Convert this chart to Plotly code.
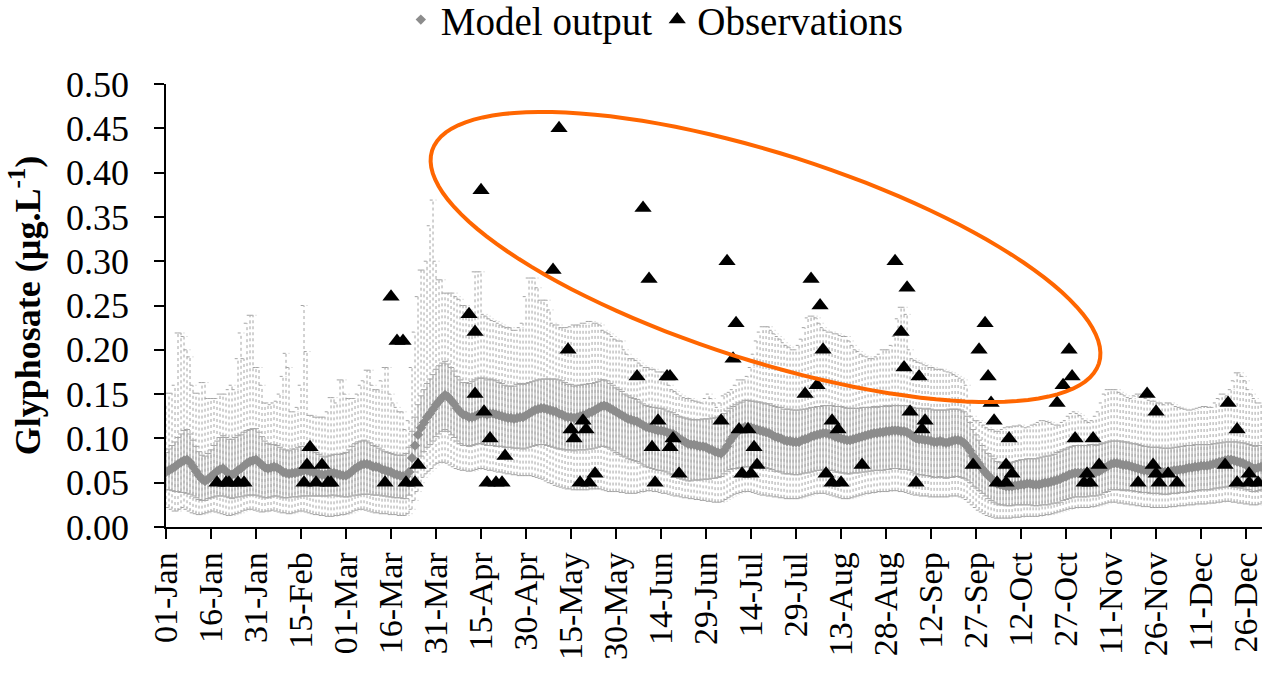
import math
import plotly.graph_objects as go

# ---------------- data ----------------
tick_days = [0, 15, 30, 45, 60, 75, 90, 105, 120, 135, 150, 165, 180, 195, 210, 225,
             240, 255, 270, 285, 300, 315, 330, 345, 360]
tick_labels = ["01-Jan", "16-Jan", "31-Jan", "15-Feb", "01-Mar", "16-Mar", "31-Mar",
               "15-Apr", "30-Apr", "15-May", "30-May", "14-Jun", "29-Jun", "14-Jul",
               "29-Jul", "13-Aug", "28-Aug", "12-Sep", "27-Sep", "12-Oct", "27-Oct",
               "11-Nov", "26-Nov", "11-Dec", "26-Dec"]

# daily model output (mean), day 0 = 01-Jan (leap year, 366 days)
model_mean = [
    0.062, 0.064, 0.066, 0.068, 0.071, 0.073, 0.075, 0.076, 0.073, 0.068,
    0.063, 0.058, 0.054, 0.052, 0.054, 0.057, 0.060, 0.063, 0.065, 0.066,
    0.063, 0.060, 0.059, 0.061, 0.064, 0.066, 0.069, 0.072, 0.074, 0.075,
    0.076, 0.073, 0.070, 0.067, 0.066, 0.067, 0.068, 0.067, 0.065, 0.062,
    0.061, 0.060, 0.061, 0.061, 0.062, 0.063, 0.064, 0.064, 0.063, 0.062,
    0.061, 0.060, 0.059, 0.059, 0.060, 0.061, 0.061, 0.060, 0.059, 0.058,
    0.058, 0.060, 0.063, 0.066, 0.068, 0.070, 0.071, 0.071, 0.070, 0.068,
    0.068, 0.067, 0.065, 0.064, 0.063, 0.062, 0.060, 0.059, 0.058, 0.057,
    0.057, 0.062, 0.078, 0.092, 0.104, 0.112, 0.118, 0.124, 0.128, 0.133,
    0.138, 0.142, 0.146, 0.149, 0.147, 0.143, 0.139, 0.134, 0.130, 0.127,
    0.126, 0.124, 0.124, 0.125, 0.127, 0.128, 0.128, 0.127, 0.128, 0.128,
    0.127, 0.126, 0.125, 0.124, 0.123, 0.123, 0.122, 0.123, 0.124, 0.124,
    0.126, 0.128, 0.130, 0.132, 0.133, 0.134, 0.134, 0.133, 0.132, 0.131,
    0.130, 0.128, 0.127, 0.125, 0.124, 0.124, 0.123, 0.124, 0.125, 0.126,
    0.127, 0.129, 0.130, 0.132, 0.134, 0.136, 0.137, 0.136, 0.134, 0.132,
    0.130, 0.128, 0.126, 0.124, 0.122, 0.121, 0.120, 0.119, 0.117, 0.115,
    0.113, 0.112, 0.111, 0.110, 0.109, 0.109, 0.108, 0.107, 0.106, 0.105,
    0.103, 0.100, 0.098, 0.096, 0.094, 0.093, 0.093, 0.092, 0.091, 0.091,
    0.090, 0.088, 0.087, 0.085, 0.084, 0.083, 0.086, 0.091, 0.097, 0.102,
    0.106, 0.109, 0.111, 0.113, 0.113, 0.112, 0.111, 0.110, 0.109, 0.108,
    0.107, 0.106, 0.104, 0.102, 0.101, 0.100, 0.098, 0.097, 0.097, 0.096,
    0.096, 0.096, 0.098, 0.099, 0.100, 0.102, 0.103, 0.104, 0.105, 0.106,
    0.106, 0.105, 0.104, 0.102, 0.101, 0.100, 0.099, 0.098, 0.098, 0.099,
    0.100, 0.101, 0.102, 0.103, 0.104, 0.105, 0.106, 0.106, 0.107, 0.107,
    0.108, 0.108, 0.109, 0.109, 0.109, 0.108, 0.108, 0.107, 0.105, 0.102,
    0.100, 0.099, 0.099, 0.098, 0.098, 0.097, 0.096, 0.096, 0.097, 0.096,
    0.095, 0.096, 0.097, 0.098, 0.098, 0.097, 0.095, 0.091, 0.086, 0.080,
    0.076, 0.071, 0.066, 0.062, 0.058, 0.055, 0.052, 0.049, 0.048, 0.047,
    0.046, 0.046, 0.046, 0.047, 0.047, 0.048, 0.048, 0.049, 0.049, 0.048,
    0.048, 0.048, 0.049, 0.050, 0.050, 0.051, 0.052, 0.053, 0.054, 0.056,
    0.057, 0.059, 0.060, 0.061, 0.061, 0.061, 0.061, 0.061, 0.062, 0.062,
    0.062, 0.063, 0.065, 0.067, 0.069, 0.071, 0.072, 0.072, 0.071, 0.070,
    0.070, 0.069, 0.068, 0.067, 0.066, 0.065, 0.064, 0.064, 0.063, 0.063,
    0.063, 0.063, 0.062, 0.062, 0.062, 0.063, 0.064, 0.064, 0.065, 0.065,
    0.066, 0.067, 0.067, 0.068, 0.068, 0.069, 0.069, 0.069, 0.070, 0.071,
    0.072, 0.073, 0.074, 0.075, 0.076, 0.076, 0.075, 0.074, 0.073, 0.072,
    0.070, 0.069, 0.067, 0.066, 0.067, 0.068,
]

# inner (solid) error bar half-lengths
inner_err_plus = [
    .022, .024, .026, .028, .030, .032, .034, .034, .032, .030,
    .028, .027, .027, .028, .029, .030, .032, .034, .036, .037,
    .038, .039, .040, .040, .039, .038, .038, .037, .036, .036,
    .035, .034, .032, .030, .028, .026, .025, .025, .025, .026,
    .026, .026, .027, .027, .028, .028, .027, .026, .025, .024,
    .023, .022, .021, .020, .020, .020, .021, .022, .023, .025,
    .026, .027, .028, .028, .028, .027, .027, .026, .025, .024,
    .023, .022, .022, .021, .021, .021, .022, .022, .023, .024,
    .026, .028, .030, .032, .034, .036, .037, .038, .039, .039,
    .040, .040, .039, .038, .037, .037, .037, .036, .036, .036,
    .037, .038, .040, .041, .041, .040, .040, .039, .039, .038,
    .038, .037, .037, .036, .036, .036, .037, .038, .038, .037,
    .036, .035, .034, .033, .033, .033, .033, .034, .035, .036,
    .037, .038, .038, .038, .037, .037, .036, .036, .035, .035,
    .034, .033, .032, .031, .030, .030, .029, .029, .028, .028,
    .027, .027, .027, .026, .026, .025, .025, .025, .024, .024,
    .024, .024, .024, .025, .025, .025, .025, .024, .024, .024,
    .024, .025, .026, .027, .028, .028, .028, .029, .030, .031,
    .032, .034, .036, .038, .040, .042, .042, .040, .037, .034,
    .032, .031, .030, .030, .030, .030, .031, .031, .032, .032,
    .032, .033, .033, .034, .034, .035, .035, .036, .036, .036,
    .036, .036, .035, .034, .034, .033, .032, .032, .031, .031,
    .031, .032, .033, .034, .035, .036, .036, .036, .036, .035,
    .034, .033, .033, .032, .031, .030, .030, .029, .029, .029,
    .029, .028, .028, .028, .028, .029, .029, .030, .031, .033,
    .034, .035, .035, .035, .036, .036, .036, .036, .035, .036,
    .037, .037, .036, .035, .035, .035, .035, .034, .032, .030,
    .028, .027, .026, .025, .025, .025, .025, .025, .025, .026,
    .026, .026, .027, .027, .028, .028, .028, .028, .028, .029,
    .029, .030, .030, .030, .030, .030, .030, .031, .031, .031,
    .031, .031, .031, .031, .031, .031, .031, .031, .031, .031,
    .030, .030, .029, .028, .027, .026, .025, .025, .026, .026,
    .026, .026, .026, .027, .027, .027, .027, .027, .027, .027,
    .027, .027, .027, .027, .027, .026, .026, .026, .026, .026,
    .026, .025, .025, .025, .025, .024, .024, .024, .023, .023,
    .022, .022, .021, .021, .020, .020, .021, .022, .022, .023,
    .024, .024, .025, .025, .025, .024,
]
inner_err_minus = [
    .020, .022, .025, .028, .031, .034, .036, .038, .036, .033,
    .030, .027, .024, .022, .022, .024, .026, .028, .030, .031,
    .029, .027, .027, .028, .030, .032, .034, .036, .038, .039,
    .040, .038, .036, .034, .033, .033, .033, .032, .031, .029,
    .028, .027, .027, .027, .028, .028, .029, .029, .028, .027,
    .026, .025, .024, .024, .025, .025, .025, .025, .024, .024,
    .024, .026, .028, .030, .032, .033, .034, .034, .033, .032,
    .032, .031, .030, .029, .029, .028, .027, .026, .025, .025,
    .025, .026, .028, .030, .031, .032, .033, .034, .035, .036,
    .036, .037, .038, .039, .039, .039, .038, .037, .036, .035,
    .034, .033, .032, .032, .033, .034, .035, .035, .036, .036,
    .036, .035, .034, .034, .033, .033, .033, .034, .035, .036,
    .037, .038, .039, .040, .040, .041, .041, .041, .041, .041,
    .041, .040, .039, .038, .037, .037, .037, .037, .038, .039,
    .040, .041, .042, .043, .044, .045, .046, .046, .046, .046,
    .046, .046, .046, .045, .045, .045, .045, .045, .045, .045,
    .045, .045, .045, .045, .045, .045, .045, .045, .046, .046,
    .046, .045, .044, .043, .042, .041, .040, .039, .038, .037,
    .036, .034, .032, .030, .028, .026, .026, .028, .032, .036,
    .040, .042, .044, .045, .045, .044, .043, .042, .041, .040,
    .040, .040, .039, .039, .038, .038, .038, .037, .037, .037,
    .037, .037, .038, .038, .039, .040, .040, .040, .041, .041,
    .041, .041, .040, .040, .039, .039, .038, .038, .038, .038,
    .039, .040, .040, .041, .041, .042, .042, .042, .043, .043,
    .043, .043, .043, .043, .043, .043, .043, .042, .041, .040,
    .040, .040, .040, .040, .040, .040, .040, .040, .040, .040,
    .040, .040, .041, .041, .041, .041, .040, .038, .036, .034,
    .032, .030, .028, .027, .026, .025, .024, .023, .023, .022,
    .022, .022, .022, .022, .022, .023, .023, .024, .024, .024,
    .024, .024, .024, .025, .025, .025, .025, .026, .026, .026,
    .026, .027, .027, .027, .027, .027, .027, .027, .027, .027,
    .027, .027, .028, .028, .029, .029, .030, .030, .029, .029,
    .028, .028, .027, .027, .026, .026, .025, .025, .025, .025,
    .025, .025, .025, .025, .025, .025, .026, .026, .026, .026,
    .027, .027, .027, .027, .027, .027, .027, .027, .028, .028,
    .028, .029, .029, .030, .030, .030, .030, .029, .029, .028,
    .028, .027, .027, .026, .026, .026,
]

# outer (dotted) error bar limits
outer_high = [
    .140, .151, .151, .160, .219, .219, .215, .200, .192, .160,
    .151, .151, .163, .163, .145, .145, .145, .145, .150, .150,
    .150, .155, .160, .155, .190, .219, .190, .230, .239, .239,
    .180, .180, .160, .140, .140, .138, .140, .142, .150, .170,
    .196, .180, .130, .130, .135, .160, .250, .198, .126, .126,
    .124, .124, .124, .124, .130, .146, .146, .140, .166, .166,
    .150, .145, .145, .145, .150, .160, .165, .177, .177, .160,
    .155, .155, .165, .180, .180, .150, .140, .135, .130, .130,
    .110, .120, .180, .220, .260, .290, .290, .300, .340, .369,
    .300, .279, .279, .264, .264, .264, .264, .260, .257, .250,
    .250, .245, .240, .288, .288, .288, .240, .238, .235, .233,
    .232, .230, .228, .226, .225, .225, .222, .222, .225, .230,
    .260, .281, .281, .281, .270, .256, .256, .256, .245, .230,
    .228, .228, .225, .225, .225, .226, .228, .228, .228, .230,
    .230, .232, .232, .230, .230, .228, .222, .220, .218, .215,
    .212, .210, .210, .200, .195, .190, .190, .188, .185, .182,
    .180, .180, .178, .178, .175, .175, .175, .172, .160, .155,
    .153, .150, .148, .146, .145, .145, .143, .142, .141, .140,
    .145, .150, .145, .140, .135, .140, .148, .150, .152, .155,
    .160, .166, .166, .166, .170, .180, .195, .210, .220, .226,
    .226, .226, .222, .218, .215, .212, .208, .205, .203, .200,
    .200, .205, .212, .225, .236, .238, .238, .236, .230, .225,
    .222, .220, .220, .218, .218, .216, .215, .215, .210, .205,
    .200, .198, .195, .193, .192, .190, .190, .192, .195, .200,
    .200, .200, .205, .215, .235, .248, .248, .240, .200, .190,
    .188, .186, .185, .183, .182, .180, .180, .178, .178, .178,
    .176, .175, .174, .172, .170, .168, .166, .160, .140, .125,
    .120, .120, .118, .115, .112, .110, .110, .108, .108, .110,
    .112, .113, .113, .114, .114, .115, .113, .112, .113, .115,
    .116, .118, .120, .120, .119, .118, .116, .115, .115, .118,
    .120, .125, .128, .130, .128, .126, .122, .120, .118, .120,
    .125, .130, .140, .150, .155, .155, .155, .155, .152, .150,
    .148, .146, .145, .148, .150, .150, .148, .145, .143, .142,
    .142, .140, .140, .138, .140, .140, .138, .136, .135, .134,
    .133, .132, .132, .133, .134, .135, .136, .136, .135, .135,
    .140, .145, .150, .150, .148, .155, .165, .174, .174, .170,
    .165, .155, .150, .145, .140, .140,
]
outer_low = [
    .025, .022, .020, .018, .018, .020, .022, .020, .018, .016,
    .015, .014, .014, .015, .016, .017, .018, .017, .016, .015,
    .014, .013, .013, .014, .015, .016, .018, .019, .020, .020,
    .019, .018, .017, .017, .018, .018, .019, .018, .017, .016,
    .016, .015, .015, .016, .017, .018, .018, .017, .016, .015,
    .014, .014, .013, .013, .012, .012, .012, .013, .013, .014,
    .014, .015, .016, .018, .019, .020, .020, .019, .018, .017,
    .016, .016, .015, .015, .015, .014, .014, .014, .013, .013,
    .013, .015, .020, .030, .040, .050, .056, .060, .063, .066,
    .070, .072, .073, .073, .072, .070, .068, .066, .065, .064,
    .064, .063, .063, .064, .065, .066, .066, .065, .064, .064,
    .063, .062, .062, .061, .060, .060, .059, .059, .058, .058,
    .058, .058, .058, .057, .056, .055, .054, .052, .050, .049,
    .047, .046, .045, .044, .043, .043, .042, .042, .042, .042,
    .042, .042, .043, .043, .043, .043, .042, .041, .040, .040,
    .040, .040, .039, .039, .038, .038, .038, .038, .039, .040,
    .040, .041, .041, .040, .040, .039, .038, .038, .037, .036,
    .035, .035, .034, .033, .033, .032, .032, .031, .031, .030,
    .030, .029, .029, .028, .028, .028, .029, .031, .033, .035,
    .037, .038, .039, .040, .040, .040, .039, .038, .037, .036,
    .036, .035, .035, .034, .034, .033, .033, .032, .032, .032,
    .032, .032, .033, .034, .035, .036, .037, .038, .038, .038,
    .038, .037, .036, .035, .034, .033, .032, .032, .032, .033,
    .034, .035, .036, .037, .038, .038, .039, .039, .040, .040,
    .040, .040, .041, .041, .041, .040, .040, .039, .038, .037,
    .036, .036, .035, .035, .035, .034, .034, .034, .034, .034,
    .034, .034, .035, .035, .035, .034, .033, .031, .028, .025,
    .022, .019, .017, .015, .013, .012, .011, .010, .010, .010,
    .010, .010, .010, .011, .011, .011, .012, .012, .012, .012,
    .012, .012, .013, .013, .014, .014, .015, .016, .017, .018,
    .019, .020, .021, .021, .022, .022, .022, .022, .022, .023,
    .023, .024, .025, .026, .027, .028, .028, .028, .027, .027,
    .026, .026, .025, .025, .024, .024, .023, .023, .023, .022,
    .022, .022, .022, .022, .022, .023, .023, .023, .024, .024,
    .024, .025, .025, .025, .026, .026, .026, .026, .027, .027,
    .027, .028, .028, .029, .029, .029, .028, .028, .027, .027,
    .026, .026, .025, .025, .025, .026,
]

# observations (day of year, concentration)
obs_day = [17, 20, 21, 24, 26,
           48, 47, 52, 46, 50, 54, 55,
           75, 77, 79, 73, 80, 83, 84,
           101, 103, 105, 103, 106, 108, 113, 107, 110, 112,
           131, 129, 134, 135, 139, 136, 140, 138, 141, 143,
           159, 161, 157, 167, 168, 164, 162, 169, 168, 163, 171,
           187, 190, 189, 185, 191, 194, 196, 197, 192, 195,
           215, 218, 219, 217, 213, 222, 224, 220, 222, 225, 232,
           243, 247, 245, 246, 251, 248, 253, 252, 250,
           273, 271, 274, 275, 276, 269, 281, 280, 282, 277, 280,
           301, 302, 299, 297, 303, 309, 311, 307, 306, 308,
           327, 330, 329, 330, 324, 331, 334, 337,
           354, 357, 353, 361, 357, 361, 364]
obs_value = [0.05, 0.05, 0.05, 0.05, 0.05,
             0.09, 0.07, 0.07, 0.05, 0.05, 0.05, 0.05,
             0.26, 0.21, 0.21, 0.05, 0.05, 0.05, 0.07,
             0.24, 0.22, 0.38, 0.15, 0.13, 0.10, 0.08, 0.05, 0.05, 0.05,
             0.45, 0.29, 0.20, 0.11, 0.12, 0.10, 0.11, 0.05, 0.05, 0.06,
             0.36, 0.28, 0.17, 0.17, 0.17, 0.12, 0.09, 0.10, 0.09, 0.05, 0.06,
             0.30, 0.23, 0.19, 0.12, 0.11, 0.11, 0.09, 0.07, 0.06, 0.06,
             0.28, 0.25, 0.20, 0.16, 0.15, 0.12, 0.11, 0.06, 0.05, 0.05, 0.07,
             0.30, 0.27, 0.22, 0.18, 0.17, 0.13, 0.12, 0.11, 0.05,
             0.23, 0.20, 0.17, 0.14, 0.12, 0.07, 0.10, 0.07, 0.06, 0.05, 0.05,
             0.20, 0.17, 0.16, 0.14, 0.10, 0.10, 0.07, 0.06, 0.05, 0.05,
             0.15, 0.13, 0.07, 0.06, 0.05, 0.05, 0.06, 0.05,
             0.14, 0.11, 0.07, 0.06, 0.05, 0.05, 0.05]

days = list(range(len(model_mean)))

# ---------------- figure ----------------
FONT = "Liberation Serif, Times New Roman, serif"
W, H = 1268, 677
ML, MR, MT, MB = 166, 6, 84, 150
X_RANGE = [0, 365.3]
Y_RANGE = [0, 0.5]

fig = go.Figure()

# outer dotted bars (with caps)
ox, oy = [], []
for d, lo, hi in zip(days, outer_low, outer_high):
    ox += [d, d, None, d - 1.1, d + 1.1, None, d - 1.1, d + 1.1, None]
    oy += [lo, hi, None, hi, hi, None, lo, lo, None]
fig.add_trace(go.Scatter(
    x=ox, y=oy, mode="lines", showlegend=False, hoverinfo="skip",
    line=dict(color="#a4a4a4", width=1, dash="3px,3px"),
))

# model output with inner error bars
fig.add_trace(go.Scatter(
    x=days, y=model_mean, mode="markers", name="Model output",
    marker=dict(symbol="diamond", size=8, color="#8c8c8c"),
    error_y=dict(type="data", symmetric=False, array=inner_err_plus,
                 arrayminus=inner_err_minus, color="#a8a8a8",
                 thickness=1, width=3),
))

# observations
fig.add_trace(go.Scatter(
    x=obs_day, y=obs_value, mode="markers", name="Observations",
    marker=dict(symbol="triangle-up", size=15, color="black"),
))

# orange ellipse annotation (pixel geometry -> paper coordinates)
pw, ph = W - ML - MR, H - MT - MB
cx, cy, ea, eb, th = 765.5, 257.0, 350.0, 103.5, math.radians(17.7)
pts = []
for i in range(121):
    t = 2 * math.pi * i / 120
    px = cx + ea * math.cos(t) * math.cos(th) - eb * math.sin(t) * math.sin(th)
    py = cy + ea * math.cos(t) * math.sin(th) + eb * math.sin(t) * math.cos(th)
    pts.append(((px - ML) / pw, (MT + ph - py) / ph))
path = "M " + " L ".join(f"{x:.5f},{y:.5f}" for x, y in pts) + " Z"
fig.add_shape(type="path", path=path, xref="paper", yref="paper",
              line=dict(color="#ff6600", width=4))

fig.update_layout(
    width=W, height=H,
    margin=dict(l=ML, r=MR, t=MT, b=MB, autoexpand=False),
    paper_bgcolor="white", plot_bgcolor="white",
    font=dict(family=FONT, size=35, color="black"),
    showlegend=True,
    legend=dict(orientation="h", x=0.446, xanchor="center", y=1.145,
                yanchor="middle", font=dict(family=FONT, size=39),
                bgcolor="rgba(0,0,0,0)", itemsizing="trace"),
    xaxis=dict(range=X_RANGE, tickmode="array", tickvals=tick_days,
               ticktext=tick_labels, tickangle=-90, ticks="outside",
               ticklen=10, tickwidth=1.5, tickcolor="black",
               showline=True, linecolor="black", linewidth=1.5,
               showgrid=False, zeroline=False, automargin=False,
               tickfont=dict(family=FONT, size=34)),
    yaxis=dict(range=Y_RANGE, tickmode="array",
               tickvals=[i * 0.05 for i in range(11)], tickformat=".2f",
               ticks="outside", ticklen=10, tickwidth=1.5, tickcolor="black",
               showline=True, linecolor="black", linewidth=1.5,
               showgrid=False, zeroline=False, ticklabelstandoff=18,
               automargin=False,
               tickfont=dict(family=FONT, size=36),
               title=dict(text="<b>Glyphosate (µg.L<sup>-1</sup>)</b>",
                          font=dict(family=FONT, size=36), standoff=14)),
)

fig.write_html("out.html",
               config={"displayModeBar": False},
               post_script="document.body.style.margin='0';"
                           "document.body.style.overflow='hidden';")
